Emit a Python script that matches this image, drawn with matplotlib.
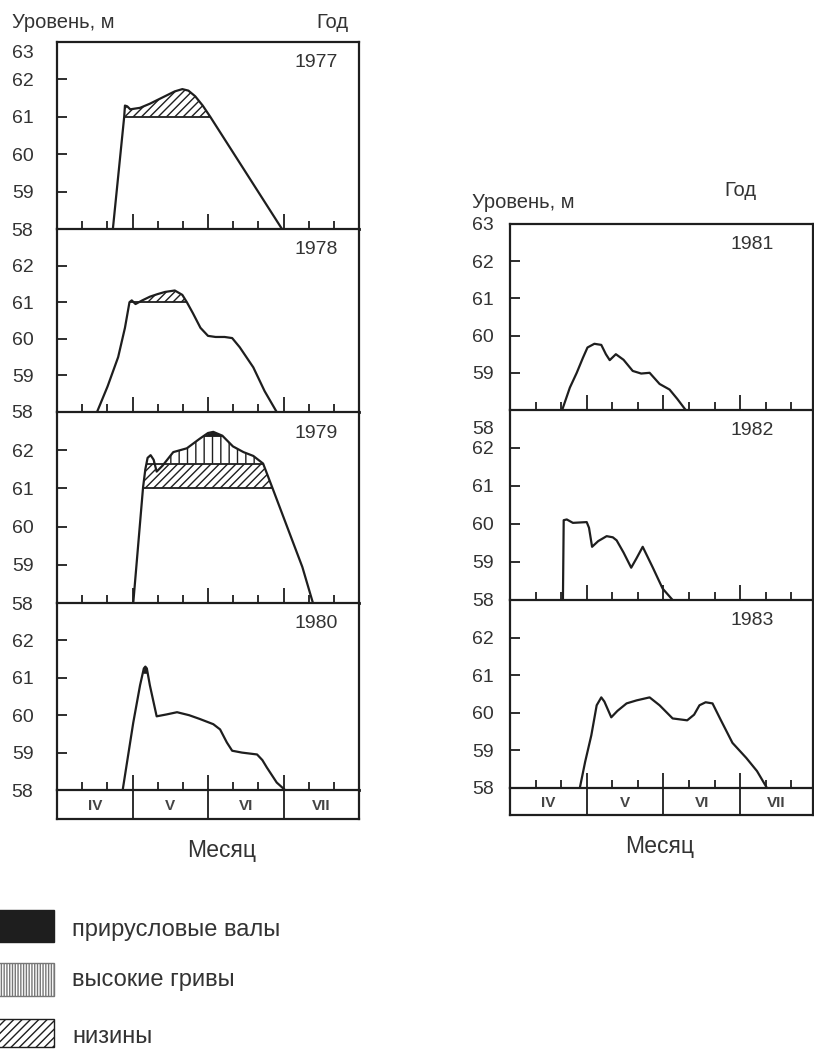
import numpy as np
import matplotlib.pyplot as plt
from matplotlib.patches import Rectangle
from matplotlib.transforms import ScaledTranslation

plt.rcParams['font.family'] = ['Liberation Sans', 'DejaVu Sans']
plt.rcParams['hatch.linewidth'] = 1.0

INK = '#1e1e1e'
TXT = '#333333'

# x = months since 1 April (0 = start of IV, 4 = end of VII), y = water level, m
x_1977 = [0.74, 0.89, 0.90, 0.93, 0.97, 1.10, 1.23, 1.43, 1.56, 1.66, 1.74, 1.83, 1.93, 2.03, 2.98]
y_1977 = [58.0, 61.0, 61.3, 61.28, 61.2, 61.24, 61.35, 61.55, 61.68, 61.74, 61.7, 61.55, 61.3, 61.0, 58.0]

x_1978 = [0.53, 0.67, 0.81, 0.90, 0.96, 0.99, 1.04, 1.13, 1.23, 1.33, 1.43, 1.56, 1.66, 1.72, 1.80,
          1.90, 2.00, 2.10, 2.22, 2.32, 2.42, 2.60, 2.75, 2.91]
y_1978 = [58.0, 58.7, 59.5, 60.3, 61.0, 61.05, 60.95, 61.05, 61.15, 61.22, 61.28, 61.32, 61.2, 61.0, 60.7,
          60.3, 60.08, 60.05, 60.05, 60.02, 59.77, 59.22, 58.57, 58.0]

x_1979 = [1.01, 1.14, 1.17, 1.20, 1.24, 1.28, 1.32, 1.40, 1.54, 1.72, 1.89, 2.0, 2.07, 2.19, 2.33,
          2.47, 2.60, 2.73, 2.85, 3.25, 3.39]
y_1979 = [58.0, 61.03, 61.5, 61.8, 61.87, 61.75, 61.44, 61.6, 61.95, 62.05, 62.3, 62.45, 62.48, 62.38, 62.1,
          61.95, 61.85, 61.65, 61.03, 58.94, 58.0]

x_1980 = [0.87, 0.94, 1.01, 1.10, 1.15, 1.17, 1.19, 1.23, 1.32, 1.45, 1.59, 1.75, 1.89, 2.07, 2.16,
          2.25, 2.32, 2.45, 2.65, 2.72, 2.78, 2.91, 3.02]
y_1980 = [58.0, 58.9, 59.8, 60.8, 61.25, 61.3, 61.25, 60.8, 59.97, 60.02, 60.08, 60.0, 59.9, 59.76, 59.62,
          59.27, 59.05, 59.0, 58.95, 58.8, 58.6, 58.2, 58.0]

x_1981 = [0.68, 0.78, 0.87, 0.95, 1.01, 1.10, 1.19, 1.25, 1.30, 1.38, 1.48, 1.60, 1.71, 1.82, 1.95,
          2.08, 2.18, 2.29]
y_1981 = [58.0, 58.6, 59.0, 59.4, 59.68, 59.78, 59.75, 59.5, 59.34, 59.5, 59.35, 59.05, 58.98, 59.0, 58.7,
          58.55, 58.3, 58.0]

x_1982 = [0.69, 0.70, 0.74, 0.82, 1.0, 1.03, 1.07, 1.15, 1.26, 1.34, 1.39, 1.48, 1.58, 1.65, 1.73,
          1.86, 1.99, 2.12]
y_1982 = [58.0, 60.1, 60.12, 60.03, 60.05, 59.9, 59.4, 59.55, 59.68, 59.65, 59.57, 59.25, 58.85, 59.1, 59.4,
          58.86, 58.3, 58.0]

x_1983 = [0.91, 0.98, 1.06, 1.13, 1.19, 1.23, 1.32, 1.40, 1.52, 1.65, 1.82, 1.95, 2.12, 2.31, 2.40,
          2.47, 2.55, 2.64, 2.75, 2.90, 3.08, 3.22, 3.35]
y_1983 = [58.0, 58.7, 59.4, 60.2, 60.41, 60.3, 59.88, 60.05, 60.25, 60.33, 60.41, 60.2, 59.85, 59.8, 59.95,
          60.2, 60.28, 60.25, 59.8, 59.2, 58.8, 58.45, 58.0]

months = ['IV', 'V', 'VI', 'VII']
legend_labels = ['прирусловые валы', 'высокие гривы', 'низины']

# flood-plain levels used for the shaded zones
lowland_level = 61.0
ridge_level = 61.65
levee_level = 62.36

W, H = 814, 1051
fig = plt.figure(figsize=(W / 100, H / 100), dpi=100)


def px_axes(x0, y_top, x1, y_bot):
    return fig.add_axes([x0 / W, 1 - y_bot / H, (x1 - x0) / W, (y_bot - y_top) / H])


def shift_label(lab, dy_px):
    lab.set_transform(lab.get_transform() + ScaledTranslation(0, -dy_px / 100, fig.dpi_scale_trans))


def level_panel(box, xmax, xs, ys, year, year_x, top=False, pad=17):
    ax = px_axes(*box)
    ax.plot(xs, ys, color=INK, lw=1.6, solid_joinstyle='round', zorder=3)
    ax.set_xlim(0, xmax)
    ax.set_ylim(58, 63)
    for s in ax.spines.values():
        s.set_linewidth(1.6)
        s.set_color(INK)
    ax.spines['bottom'].set_linewidth(2.0)
    ticks = [58, 59, 60, 61, 62] + ([63] if top else [])
    ax.set_yticks(ticks)
    ax.set_yticklabels([str(t) for t in ticks])
    ax.tick_params(axis='y', direction='in', length=7, width=1.3, color=INK, pad=pad,
                   labelsize=14, labelcolor=TXT)
    ax.set_xticks([1, 2, 3])
    ax.set_xticks([k / 3 for k in range(1, 12) if k % 3], minor=True)
    ax.tick_params(axis='x', which='major', direction='in', length=11, width=1.3, color=INK,
                   labelbottom=False)
    ax.tick_params(axis='x', which='minor', direction='in', length=5.5, width=1.3, color=INK)
    ax.text(year_x, 0.89, year, transform=ax.transAxes, ha='center', va='center',
            fontsize=14, color=TXT)
    return ax


def month_band(box, xmax):
    ax = px_axes(*box)
    ax.set_xlim(0, xmax)
    ax.set_ylim(0, 1)
    ax.set_xticks([])
    ax.set_yticks([])
    for s in ax.spines.values():
        s.set_linewidth(1.6)
        s.set_color(INK)
    for b in [1, 2, 3]:
        ax.axvline(b, color=INK, lw=1.3)
    for i, m in enumerate(months):
        ax.text(i + 0.5 if i < 3 else (3 + xmax) / 2, 0.45, m, ha='center', va='center',
                fontsize=11, fontweight='bold', color='#444444')
    return ax


def crossing_span(xs, ys, level):
    above = np.where(ys >= level)[0]
    i, j = above[0], above[-1]
    x_in = xs[i]
    if i > 0 and ys[i] > level:
        x_in = xs[i - 1] + (level - ys[i - 1]) / (ys[i] - ys[i - 1]) * (xs[i] - xs[i - 1])
    x_out = xs[j]
    if j < len(xs) - 1 and ys[j] > level:
        x_out = xs[j] + (ys[j] - level) / (ys[j] - ys[j + 1]) * (xs[j + 1] - xs[j])
    return x_in, x_out


def zone(ax, xs, ys, lo, hi, hatch=None, color=None, edge=True):
    xs = np.asarray(xs, float)
    ys = np.asarray(ys, float)
    top = np.minimum(ys, hi)
    mask = ys >= lo
    if color:
        ax.fill_between(xs, lo, top, where=mask, interpolate=True, color=color, lw=0, zorder=2)
    else:
        ax.fill_between(xs, lo, top, where=mask, interpolate=True, facecolor='none',
                        edgecolor=INK, hatch=hatch, lw=0, zorder=2)
    if edge:
        a, b = crossing_span(xs, ys, lo)
        ax.hlines(lo, a, b, color=INK, lw=1.3, zorder=3)


# ---- left column: 1977-1980
L0, L1 = 57, 359
a77 = level_panel((L0, 42, L1, 229), 4, x_1977, y_1977, '1977', 0.857, top=True)
shift_label(a77.get_yticklabels()[-1], 10)
zone(a77, x_1977, y_1977, lowland_level, 70, hatch='////')

a78 = level_panel((L0, 229, L1, 412), 4, x_1978, y_1978, '1978', 0.857)
zone(a78, x_1978, y_1978, lowland_level, 70, hatch='////')

a79 = level_panel((L0, 412, L1, 603), 4, x_1979, y_1979, '1979', 0.857)
zone(a79, x_1979, y_1979, lowland_level, ridge_level, hatch='////')
zone(a79, x_1979, y_1979, ridge_level, 70, hatch='||')
zone(a79, x_1979, y_1979, levee_level, 70, color=INK, edge=False)

a80 = level_panel((L0, 603, L1, 790), 4, x_1980, y_1980, '1980', 0.857)
zone(a80, x_1980, y_1980, 61.12, 70, color=INK, edge=False)

month_band((L0, 790, L1, 819), 4)

# ---- right column: 1981-1983
R0, R1 = 510, 813
RX = 3.95
a81 = level_panel((R0, 224, R1, 410), RX, x_1981, y_1981, '1981', 0.80, top=True, pad=11.5)
shift_label(a81.get_yticklabels()[0], 18)
a82 = level_panel((R0, 410, R1, 600), RX, x_1982, y_1982, '1982', 0.80, pad=11.5)
a83 = level_panel((R0, 600, R1, 788), RX, x_1983, y_1983, '1983', 0.80, pad=11.5)
month_band((R0, 788, R1, 815), RX)

# ---- headers
fig.text(12 / W, 1 - 22 / H, 'Уровень, м', fontsize=14.5, color=TXT, ha='left', va='center')
fig.text(332 / W, 1 - 22 / H, 'Год', fontsize=14.5, color=TXT, ha='center', va='center')
fig.text(472 / W, 1 - 203 / H, 'Уровень, м', fontsize=14.5, color=TXT, ha='left', va='center')
fig.text(740 / W, 1 - 191 / H, 'Год', fontsize=14.5, color=TXT, ha='center', va='center')
fig.text(222 / W, 1 - 851 / H, 'Месяц', fontsize=16.5, color=TXT, ha='center', va='center')
fig.text(660 / W, 1 - 846 / H, 'Месяц', fontsize=16.5, color=TXT, ha='center', va='center')

# ---- legend
styles = [dict(facecolor=INK, edgecolor=INK),
          dict(facecolor='white', edgecolor='#777777', hatch='||||||'),
          dict(facecolor='white', edgecolor=INK, hatch='////')]
rows = [(910, 942), (963, 996), (1019, 1047)]
text_y = [930, 980, 1037]
for (yt, yb), ty, st, lbl in zip(rows, text_y, styles, legend_labels):
    fig.patches.append(Rectangle((-5 / W, 1 - yb / H), 59 / W, (yb - yt) / H,
                                 transform=fig.transFigure, lw=1.0, **st))
    fig.text(72 / W, 1 - ty / H, lbl, fontsize=17, color=TXT, ha='left', va='center')

fig.savefig('out.png', dpi=100)
